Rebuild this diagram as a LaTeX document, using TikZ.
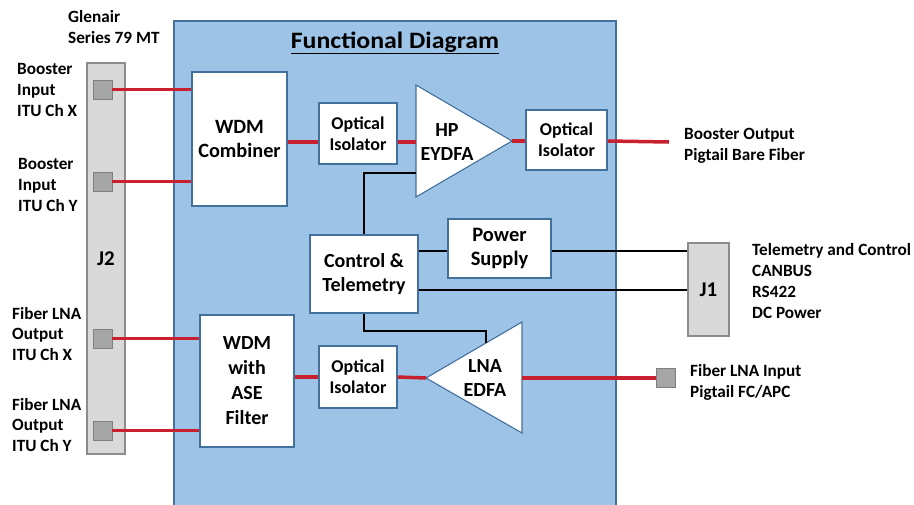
\documentclass[tikz,border=0pt]{standalone}
\usepackage{fontspec}
\setmainfont{Carlito}
\usetikzlibrary{calc}
\definecolor{panelblue}{HTML}{9DC3E6}
\definecolor{edgeblue}{HTML}{41719C}
\definecolor{fiberred}{HTML}{C8202E}
\definecolor{connfill}{HTML}{D9D9D9}
\definecolor{connedge}{HTML}{8C8C8C}
\definecolor{portfill}{HTML}{A6A6A6}
\definecolor{portedge}{HTML}{7F7F7F}
\tikzset{
  box/.style={draw=edgeblue, fill=white, line width=1.1pt, align=center, inner sep=0pt,
    font=\bfseries\fontsize{20.3}{24.8}\selectfont},
  smallbox/.style={box, font=\bfseries\fontsize{18}{21}\selectfont},
  amp/.style={draw=edgeblue, fill=white, line width=1.1pt, line join=miter},
  amptext/.style={align=center, inner sep=0pt, font=\bfseries\fontsize{20}{24.5}\selectfont},
  connector/.style={draw=connedge, fill=connfill, line width=1.1pt, inner sep=0pt,
    font=\bfseries\fontsize{21}{24}\selectfont},
  port/.style={draw=portedge, fill=portfill, line width=0.9pt, minimum size=19pt, inner sep=0pt},
  fiber/.style={draw=fiberred, line width=3.5pt},
  wire/.style={draw=black, line width=1.6pt},
  lbl/.style={align=left, inner sep=0pt, anchor=west, font=\bfseries\fontsize{17.2}{20.8}\selectfont},
}
\begin{document}
\begin{tikzpicture}[x=1pt, y=-1pt]
\useasboundingbox (0,0) rectangle (914,504);

% module housing
\fill[panelblue] (174,21) rectangle (616,520);
\draw[edgeblue, line width=1.1pt] (174,520) -- (174,21) -- (616,21) -- (616,520);
\node[font=\bfseries\fontsize{23.5}{26}\selectfont, inner sep=0pt] (title) at (395,43)
  {\scalebox{1.1}[1]{\underline{Functional Diagram}}};

% J2 connector with its ports
\node[connector, minimum width=38pt, minimum height=391pt] (j2) at (106,258.5) {J2};
\node[port] (p1) at (102.5,89.5) {};
\node[port] (p2) at (102.5,181.5) {};
\node[port] (p3) at (102.5,338.5) {};
\node[port] (p4) at (102.5,430.5) {};

% J1 connector
\node[connector, minimum width=41pt, minimum height=93pt] (j1) at (708.5,289.5) {J1};

% LNA input pigtail connector
\node[port] (lnain) at (666,378) {};

% functional blocks
\node[box, minimum width=95pt, minimum height=134pt] (wdmc) at (239.5,139) {WDM\\Combiner};
\node[smallbox, minimum width=78pt, minimum height=61pt] (iso1) at (358,133.5) {Optical\\Isolator};
\node[smallbox, minimum width=81pt, minimum height=60pt] (iso2) at (566.5,140) {Optical\\Isolator};
\node[box, minimum width=108pt, minimum height=78pt, font=\bfseries\fontsize{20}{24.5}\selectfont] (ctl) at (364,274) {Control \&\\Telemetry};
\node[box, minimum width=103pt, minimum height=59pt, font=\bfseries\fontsize{20.5}{24}\selectfont] (ps) at (499.5,248.5) {Power\\Supply};
\node[smallbox, minimum width=78pt, minimum height=62pt] (iso3) at (358,377) {Optical\\Isolator};
\node[box, minimum width=94pt, minimum height=132pt, font=\bfseries\fontsize{20}{25}\selectfont] (wdma) at (247,381) {WDM\\with\\ASE\\Filter};

% booster amplifier
\coordinate (hpTop) at (416,85);
\coordinate (hpBot) at (416,197);
\coordinate (hpOut) at (512,141);
\filldraw[amp] (hpTop) -- (hpOut) -- (hpBot) -- cycle;
\node[amptext] (hp) at (447,142) {HP\\EYDFA};
\coordinate (hpIn) at (416,142);
\coordinate (hpCtl) at (416,173);

% preamplifier
\coordinate (lnaOut) at (426,378);
\coordinate (lnaTop) at (522,322);
\coordinate (lnaBot) at (522,433);
\filldraw[amp] (lnaOut) -- (lnaTop) -- (lnaBot) -- cycle;
\node[amptext] (lna) at (485,378) {LNA\\EDFA};
\coordinate (lnaIn) at (522,378);
\coordinate (lnaCtl) at ($(lnaOut)!0.625!(lnaTop)$);

% optical paths
\coordinate (boostEnd) at (669,142);
\draw[fiber] (p1.east) -- (p1.east -| wdmc.west);
\draw[fiber] (p2.east) -- (p2.east -| wdmc.west);
\draw[fiber] (wdmc.east |- hpIn) -- (iso1.west |- hpIn);
\draw[fiber] (iso1.east |- hpIn) -- (hpIn);
\draw[fiber] (hpOut) -- (iso2.west |- hpOut);
\draw[fiber] (iso2.east |- hpOut) -- (boostEnd);
\draw[fiber] (p3.east) -- (p3.east -| wdma.west);
\draw[fiber] (p4.east) -- (p4.east -| wdma.west);
\draw[fiber] (wdma.east |- iso3.west) -- (iso3.west);
\draw[fiber] (iso3.east) -- (lnaOut);
\draw[fiber] (lnaIn) -- (lnain.west);

% electrical paths
\coordinate (busPwr) at (0,251);
\coordinate (busTlm) at (0,290);
\coordinate (lnaBend) at (0,331);
\draw[wire] (hpCtl) -| (ctl.north);
\draw[wire] (ctl.east |- busPwr) -- (ps.west |- busPwr);
\draw[wire] (ps.east |- busPwr) -- (j1.west |- busPwr);
\draw[wire] (ctl.east |- busTlm) -- (j1.west |- busTlm);
\draw[wire] (ctl.south) -- (ctl.south |- lnaBend) -| (lnaCtl);

% labels
\node[lbl] (glen) at (68,27) {Glenair\\Series 79 MT};
\node[lbl] (binx) at (17,90) {Booster\\Input\\ITU Ch X};
\node[lbl] (biny) at (18,185) {Booster\\Input\\ITU Ch Y};
\node[lbl] (lnox) at (12,334) {Fiber LNA\\Output\\ITU Ch X};
\node[lbl] (lnoy) at (12,425) {Fiber LNA\\Output\\ITU Ch Y};
\node[lbl] (bout) at (684,145.5) {Booster Output\\Pigtail Bare Fiber};
\node[lbl] (tlm) at (752,281) {Telemetry and Control\\CANBUS\\RS422\\DC Power};
\node[lbl] (lnail) at (690,382.5) {Fiber LNA Input\\Pigtail FC/APC};
\end{tikzpicture}
\end{document}
